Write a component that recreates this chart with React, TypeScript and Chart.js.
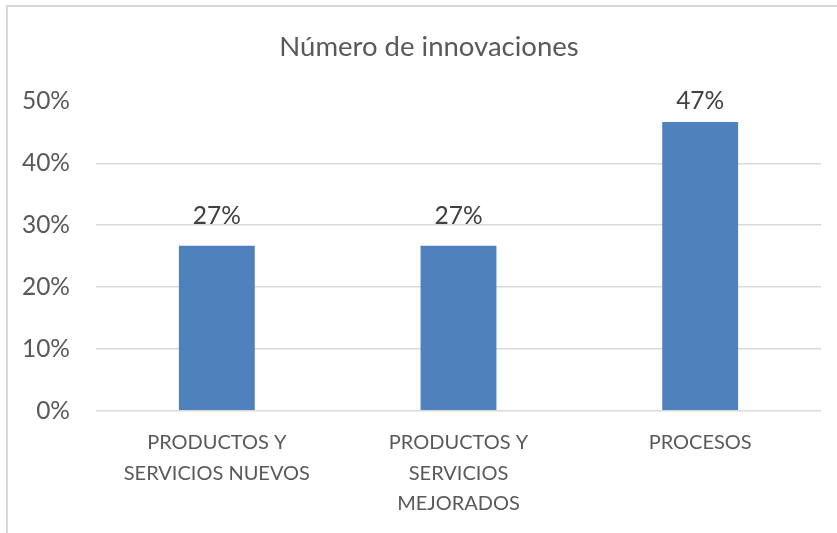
import React, { useEffect, useRef } from "react";
import { Chart, registerables } from "chart.js";

Chart.register(...registerables);

const TITLE = "Número de innovaciones";
const CATEGORIES: string[][] = [
  ["PRODUCTOS Y", "SERVICIOS NUEVOS"],
  ["PRODUCTOS Y", "SERVICIOS", "MEJORADOS"],
  ["PROCESOS"],
];
const VALUES: number[] = [0.2667, 0.2667, 0.4667];
const Y_MIN = 0;
const Y_MAX = 0.5;
const Y_STEP = 0.1;

const FONT = "Lato, 'Open Sans', sans-serif";
const TEXT = "#595959";
const LABEL = "#404040";
const BAR = "#4F81BD";
const GRID = "#D9D9D9";

const pct = (v: number) => `${Math.round(v * 100)}%`;

const titlePlugin = {
  id: "excelTitle",
  afterDraw(chart: any) {
    const { ctx, width } = chart;
    ctx.save();
    ctx.font = `27.5px ${FONT}`;
    ctx.fillStyle = TEXT;
    ctx.textAlign = "center";
    ctx.textBaseline = "middle";
    ctx.fillText(TITLE, width / 2 + 10.5, 47);
    ctx.restore();
  },
};

const dataLabels = {
  id: "dataLabels",
  afterDatasetsDraw(chart: any) {
    const { ctx, chartArea } = chart;
    const meta = chart.getDatasetMeta(0);
    ctx.save();
    ctx.font = `24.5px ${FONT}`;
    ctx.fillStyle = LABEL;
    ctx.textAlign = "center";
    ctx.textBaseline = "middle";
    meta.data.forEach((el: any, i: number) => {
      const v = chart.data.datasets[0].data[i];
      const y = Math.max(el.y - 30, chartArea.top - 0.5);
      ctx.fillText(pct(v), el.x, y);
    });
    ctx.restore();
  },
};

export default function App() {
  const ref = useRef<HTMLCanvasElement>(null);
  useEffect(() => {
    document.body.style.margin = "0";
    const chart = new Chart(ref.current!, {
      type: "bar",
      data: {
        labels: CATEGORIES,
        datasets: [
          {
            data: VALUES,
            backgroundColor: BAR,
            borderWidth: 0,
            barPercentage: 0.314,
            categoryPercentage: 1,
          },
        ],
      },
      options: {
        animation: false,
        responsive: false,
        maintainAspectRatio: false,
        layout: { padding: { left: 0, right: 16, top: 101.5, bottom: 0 } },
        plugins: {
          legend: { display: false },
          tooltip: { enabled: false },
          title: { display: false },
        },
        scales: {
          x: {
            grid: { display: false, drawTicks: false },
            border: { display: false },
            ticks: {
              color: TEXT,
              font: { family: FONT, size: 20, lineHeight: 1.52 },
              padding: 17,
              maxRotation: 0,
              autoSkip: false,
            },
            afterFit(scale: any) {
              scale.height = 122.3;
            },
          },
          y: {
            min: Y_MIN,
            max: Y_MAX,
            grid: {
              drawTicks: false,
              color: (c: any) =>
                c.tick && Math.abs(c.tick.value - Y_MAX) < 1e-6 ? "rgba(0,0,0,0)" : GRID,
              lineWidth: 1.5,
            },
            border: { display: false },
            ticks: {
              stepSize: Y_STEP,
              color: TEXT,
              font: { family: FONT, size: 24.5 },
              padding: 26,
              callback: (v: any) => pct(Number(v)),
            },
            afterFit(scale: any) {
              scale.width = 96;
            },
          },
        },
      },
      plugins: [dataLabels, titlePlugin],
    });
    return () => chart.destroy();
  }, []);

  return (
    <div style={{ position: "relative", width: 837, height: 533, overflow: "hidden", background: "#fff" }}>
      <div
        style={{
          position: "absolute",
          left: 6,
          top: 5,
          width: 900,
          height: 600,
          borderLeft: `2px solid ${GRID}`,
          borderTop: `2px solid ${GRID}`,
        }}
      />
      <canvas ref={ref} width={837} height={533} style={{ position: "absolute", left: 0, top: 0 }} />
    </div>
  );
}
